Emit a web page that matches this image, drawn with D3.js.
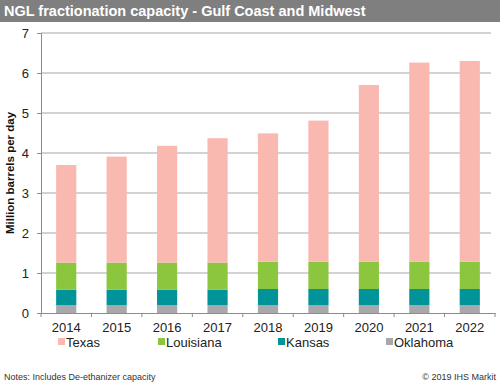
<!DOCTYPE html>
<html>
<head>
<meta charset="utf-8">
<script src="https://cdn.jsdelivr.net/npm/d3@7"></script>
<style>
  body { margin: 0; background: #fff; }
  svg { display: block; font-family: "Liberation Sans", Arial, sans-serif; }
</style>
</head>
<body>
<div id="chart"></div>
<script>
// data (million barrels per day)
let years = ["2014", "2015", "2016", "2017", "2018", "2019", "2020", "2021", "2022"];
let oklahoma = [0.2, 0.2, 0.2, 0.2, 0.2, 0.2, 0.2, 0.2, 0.2];
let kansas = [0.38, 0.38, 0.38, 0.38, 0.4, 0.4, 0.4, 0.4, 0.4];
let louisiana = [0.68, 0.68, 0.68, 0.68, 0.68, 0.68, 0.68, 0.68, 0.68];
let texas = [2.44, 2.65, 2.92, 3.11, 3.21, 3.53, 4.42, 4.98, 5.02];
let yTicks = [0, 1, 2, 3, 4, 5, 6, 7];

let seriesNames = ["Oklahoma", "Kansas", "Louisiana", "Texas"];
let colors = {Texas: "#f9b8b0", Louisiana: "#8cc63e", Kansas: "#00949a", Oklahoma: "#a8a8ab"};

let W = 500, H = 383;
let svg = d3.select("#chart").append("svg")
  .attr("width", W).attr("height", H);

// title bar
svg.append("rect").attr("x", 0).attr("y", 0).attr("width", W).attr("height", 22)
  .attr("fill", "#7f7f7f");
svg.append("text").attr("x", 4).attr("y", 16)
  .attr("fill", "#fff").attr("font-weight", "bold").attr("font-size", 14.5)
  .text("NGL fractionation capacity - Gulf Coast and Midwest");

let x = d3.scaleBand().domain(years).range([41, 495]).paddingInner(0.6).paddingOuter(0.3);
let y = d3.scaleLinear().domain([0, 7]).range([313, 33]);

let table = years.map(function (yr, i) {
  return {year: yr, Oklahoma: oklahoma[i], Kansas: kansas[i], Louisiana: louisiana[i], Texas: texas[i]};
});
let stacked = d3.stack().keys(seriesNames)(table);

// gridlines
svg.append("g").selectAll("line").data(yTicks.slice(1)).enter().append("line")
  .attr("x1", 41).attr("x2", 491)
  .attr("y1", function (d) { return y(d); }).attr("y2", function (d) { return y(d); })
  .attr("stroke", "#a6a6a6").attr("stroke-width", 1);

// bars
svg.append("g").selectAll("g").data(stacked).enter().append("g")
  .attr("fill", function (d) { return colors[d.key]; })
  .selectAll("rect").data(function (d) { return d; }).enter().append("rect")
  .attr("x", function (d) { return x(d.data.year); })
  .attr("width", x.bandwidth())
  .attr("y", function (d) { return y(d[1]); })
  .attr("height", function (d) { return y(d[0]) - y(d[1]); });

// y axis
let yAxis = svg.append("g").attr("transform", "translate(41,0)")
  .call(d3.axisLeft(y).tickValues(yTicks).tickSize(4).tickPadding(8).tickFormat(d3.format("d")));
yAxis.select(".domain").attr("stroke", "#8c8c8c");
yAxis.selectAll(".tick line").attr("stroke", "#8c8c8c");
yAxis.selectAll("text").attr("font-size", 13).attr("fill", "#222")
  .attr("font-family", "\"Liberation Sans\", Arial, sans-serif");

// x axis
let xAxis = svg.append("g").attr("transform", "translate(0,313)")
  .call(d3.axisBottom(x).tickSize(0).tickPadding(10));
xAxis.select(".domain").attr("stroke", "#8c8c8c");
xAxis.selectAll("text").attr("font-size", 13).attr("fill", "#222")
  .attr("font-family", "\"Liberation Sans\", Arial, sans-serif");
// category boundary ticks
let step = x.step();
svg.append("g").selectAll("line").data(d3.range(years.length + 1)).enter().append("line")
  .attr("x1", function (i) { return 41 + i * step * 1.0; })
  .attr("x2", function (i) { return 41 + i * step * 1.0; })
  .attr("y1", 313).attr("y2", 317)
  .attr("stroke", "#8c8c8c");

// y axis title
svg.append("text")
  .attr("transform", "translate(14,173) rotate(-90)")
  .attr("text-anchor", "middle").attr("font-weight", "bold").attr("font-size", 11.5)
  .attr("fill", "#111")
  .text("Million barrels per day");

// legend
let legendItems = [
  {name: "Texas", x: 58},
  {name: "Louisiana", x: 158},
  {name: "Kansas", x: 278},
  {name: "Oklahoma", x: 386}
];
let lg = svg.append("g").selectAll("g").data(legendItems).enter().append("g")
  .attr("transform", function (d) { return "translate(" + d.x + ",343)"; });
lg.append("rect").attr("x", 0).attr("y", -5).attr("width", 7).attr("height", 7)
  .attr("fill", function (d) { return colors[d.name]; });
lg.append("text").attr("x", 8).attr("y", 4).attr("font-size", 13).attr("fill", "#222")
  .text(function (d) { return d.name; });

// notes
svg.append("text").attr("x", 4).attr("y", 380).attr("font-size", 9).attr("fill", "#333")
  .text("Notes: Includes De-ethanizer capacity");
svg.append("text").attr("x", 496).attr("y", 380).attr("font-size", 9).attr("fill", "#333")
  .attr("text-anchor", "end")
  .text("\u00a9 2019 IHS Markit");
</script>
</body>
</html>
